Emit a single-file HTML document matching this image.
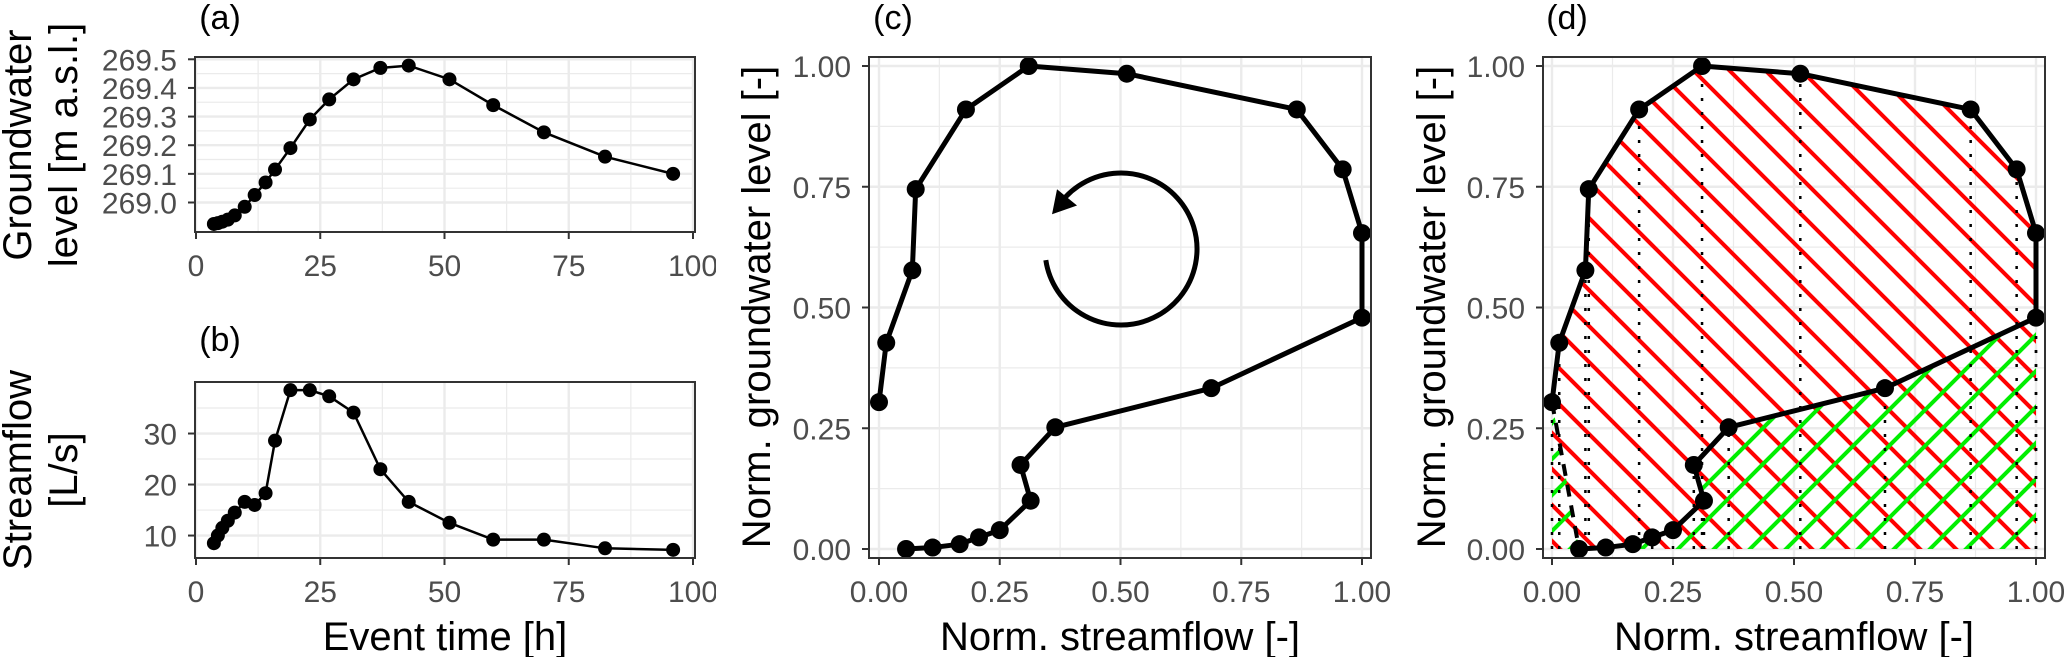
<!DOCTYPE html>
<html><head><meta charset="utf-8"><style>
html,body{margin:0;padding:0;background:#fff;}
svg text{font-family:"Liberation Sans",Arial,sans-serif;}
</style></head><body>
<svg id="fig" width="2067" height="657" viewBox="0 0 2067 657" xmlns="http://www.w3.org/2000/svg">
<defs>
<clipPath id="clipA"><rect x="195" y="57" width="500" height="175"/></clipPath>
<clipPath id="clipB"><rect x="195" y="382" width="500" height="176"/></clipPath>
<clipPath id="clipLbl"><rect x="0" y="0" width="716" height="657"/></clipPath>
<clipPath id="clipRed"><polygon id="redPoly"/></clipPath>
<clipPath id="clipGreen"><polygon id="greenPoly"/></clipPath>
</defs>
<g id="root"></g>
</svg>
<script>
// ---- data ----
const eventTime = [3.6,4.4,5.3,6.4,7.8,9.8,11.8,14,15.9,19,22.9,26.8,31.7,37.1,42.8,51,59.8,70,82.3,96];
const groundwater = [268.925,268.928,268.933,268.94,268.955,268.985,269.026,269.07,269.115,269.19,269.29,269.36,269.43,269.47,269.478,269.43,269.34,269.245,269.16,269.1];
const streamflow = [8.5,10,11.5,12.9,14.5,16.6,16,18.3,28.6,38.5,38.5,37.3,34.1,23,16.6,12.5,9.2,9.2,7.5,7.2];
const normQ = [0.056,0.111,0.167,0.207,0.25,0.314,0.293,0.365,0.688,1.0,1.0,0.96,0.865,0.513,0.31,0.18,0.076,0.069,0.015,0.0];
const normGW = [0.0,0.003,0.010,0.024,0.039,0.10,0.174,0.252,0.333,0.479,0.654,0.786,0.91,0.984,1.0,0.91,0.745,0.577,0.427,0.304];
const timeTicks = [0,25,50,75,100];
const gwTicks = [269.0,269.1,269.2,269.3,269.4,269.5];
const qTicks = [10,20,30];
const normTicks = [0,0.25,0.5,0.75,1.0];
const normTickLabels = ["0.00","0.25","0.50","0.75","1.00"];

const NS="http://www.w3.org/2000/svg";
const root=document.getElementById('root');
function mk(tag,attrs,parent){const e=document.createElementNS(NS,tag);for(const k in attrs)e.setAttribute(k,attrs[k]);(parent||root).appendChild(e);return e;}
function lin(d0,d1,p0,p1){return v=>p0+(v-d0)/(d1-d0)*(p1-p0);}

const xT=lin(0,100,196,693);
const yA=lin(268.897,269.508,232,57);
const yB=lin(5.6,40.1,558,382);
const xC=lin(0,1,879,1362), xD=lin(0,1,1552,2036), yN=lin(0,1,549,66);

function panel(name,x0,y0,x1,y1,xs,ys,xMaj,xMin,yMaj,yMin){
  const g=mk('g',{});
  
  
  mk('rect',{x:x0,y:y0,width:x1-x0,height:y1-y0,fill:'#fff'},g);
  xMin.forEach(v=>mk('line',{x1:xs(v),x2:xs(v),y1:y0,y2:y1,stroke:'#ebebeb','stroke-width':1.2},g));
  yMin.forEach(v=>mk('line',{x1:x0,x2:x1,y1:ys(v),y2:ys(v),stroke:'#ebebeb','stroke-width':1.2},g));
  xMaj.forEach(v=>mk('line',{x1:xs(v),x2:xs(v),y1:y0,y2:y1,stroke:'#ebebeb','stroke-width':2.4},g));
  yMaj.forEach(v=>mk('line',{x1:x0,x2:x1,y1:ys(v),y2:ys(v),stroke:'#ebebeb','stroke-width':2.4},g));
  return g;
}
function frame(x0,y0,x1,y1,xs,ys,xMaj,yMaj,xLbl,yLbl){
  const b=mk('rect',{x:x0,y:y0,width:x1-x0,height:y1-y0,fill:'none',stroke:'#333','stroke-width':2});
  
  
  xMaj.forEach((v,i)=>{
    mk('line',{x1:xs(v),x2:xs(v),y1:y1,y2:y1+7,stroke:'#333','stroke-width':2});
    const t=mk('text',{x:xs(v),y:y1+44,'font-size':30,fill:'#4d4d4d','text-anchor':'middle','clip-path':x0<700?'url(#clipLbl)':''});
    t.textContent=xLbl[i];
    
    
  });
  yMaj.forEach((v,i)=>{
    mk('line',{x1:x0-7,x2:x0,y1:ys(v),y2:ys(v),stroke:'#333','stroke-width':2});
    const t=mk('text',{x:x0-18,y:ys(v)+11,'font-size':30,fill:'#4d4d4d','text-anchor':'end'});
    t.textContent=yLbl[i];
    
    
  });
}
function label(txt,x,y,size,name,rot){
  const t=mk('text',{x:x,y:y,'font-size':size,fill:'#000','text-anchor':'middle','dominant-baseline':'central'});
  if(rot) t.setAttribute('transform','rotate(-90 '+x+' '+y+')');
  t.textContent=txt;
  
  
}

// ---- panel a ----
panel('groundwater-time',195,57,695,232,xT,yA,timeTicks,[12.5,37.5,62.5,87.5],gwTicks,[269.05,269.15,269.25,269.35,269.45]);
const ga=mk('g',{'clip-path':'url(#clipA)'});


mk('polyline',{points:eventTime.map((t,i)=>xT(t)+','+yA(groundwater[i])).join(' '),fill:'none',stroke:'#000','stroke-width':2.5},ga);
eventTime.forEach((t,i)=>{const c=mk('circle',{cx:xT(t),cy:yA(groundwater[i]),r:7,fill:'#000'},ga);
  
  });
frame(195,57,695,232,xT,yA,timeTicks,gwTicks,timeTicks.map(String),gwTicks.map(v=>v.toFixed(1)));
label('(a)',220,18,34,'panel-a-title');
label('Groundwater',18,145,40,'y-axis-title-a-line1',true);
label('level [m a.s.l.]',64,145,40,'y-axis-title-a-line2',true);

// ---- panel b ----
panel('streamflow-time',195,382,695,558,xT,yB,timeTicks,[12.5,37.5,62.5,87.5],qTicks,[15,25,35]);
const gb=mk('g',{'clip-path':'url(#clipB)'});


mk('polyline',{points:eventTime.map((t,i)=>xT(t)+','+yB(streamflow[i])).join(' '),fill:'none',stroke:'#000','stroke-width':2.5},gb);
eventTime.forEach((t,i)=>{const c=mk('circle',{cx:xT(t),cy:yB(streamflow[i]),r:7,fill:'#000'},gb);
  
  });
frame(195,382,695,558,xT,yB,timeTicks,qTicks,timeTicks.map(String),qTicks.map(String));
label('(b)',220,340,34,'panel-b-title');
label('Streamflow',18,470,40,'y-axis-title-b-line1',true);
label('[L/s]',64,470,40,'y-axis-title-b-line2',true);
label('Event time [h]',445,637,40,'x-axis-title-ab');

const normMin=[0.125,0.375,0.625,0.875];
// ---- panel c ----
panel('hysteresis-loop',869,57,1371,558,xC,yN,normTicks,normMin,normTicks,normMin);
const gc=mk('g',{});


mk('polyline',{points:normQ.map((q,i)=>xC(q)+','+yN(normGW[i])).join(' '),fill:'none',stroke:'#000','stroke-width':5,'stroke-linejoin':'round'},gc);
normQ.forEach((q,i)=>{const c=mk('circle',{cx:xC(q),cy:yN(normGW[i]),r:9,fill:'#000'},gc);
  
  });
const cx=1121,cy=249,R=76;
const a0=Math.atan2(260-cy,1047-cx), a1=Math.atan2(212-cy,1059-cx);
const arc=mk('path',{d:'M'+(cx+R*Math.cos(a0))+','+(cy+R*Math.sin(a0))+' A'+R+','+R+' 0 1 0 '+(cx+R*Math.cos(a1))+','+(cy+R*Math.sin(a1)),fill:'none',stroke:'#000','stroke-width':5});


const ah=mk('polygon',{points:'1054,212 1058,192 1074,205',fill:'#000',stroke:'#000','stroke-width':3});


frame(869,57,1371,558,xC,yN,normTicks,normTicks,normTickLabels,normTickLabels);
label('(c)',893,18,34,'panel-c-title');
label('Norm. groundwater level [-]',757,307,40,'y-axis-title-c',true);
label('Norm. streamflow [-]',1120,637,40,'x-axis-title-c');

// ---- panel d ----
panel('hysteresis-area',1543,57,2045,558,xD,yN,normTicks,normMin,normTicks,normMin);
const loopPts=normQ.map((q,i)=>xD(q)+','+yN(normGW[i]));
const iPeak=normQ.indexOf(Math.max(...normQ));
const last=normQ.length-1;
// red: area under the upper (falling) branch down to zero
const upper=[];
for(let i=iPeak;i<=last;i++) upper.push(xD(normQ[i])+','+yN(normGW[i]));
const redPts=upper.concat([xD(normQ[last])+','+yN(0),xD(normQ[iPeak])+','+yN(0)]);
document.getElementById('redPoly').setAttribute('points',redPts.join(' '));
// green: area under the lower (rising) branch
const lower=normQ.slice(0,iPeak+1).map((q,i)=>xD(q)+','+yN(normGW[i]));
const greenPts=[xD(normQ[last])+','+yN(normGW[last])].concat(lower,[xD(normQ[iPeak])+','+yN(0),xD(normQ[last])+','+yN(0)]);
document.getElementById('greenPoly').setAttribute('points',greenPts.join(' '));
const gr=mk('g',{'clip-path':'url(#clipRed)'});


for(let k=-600;k<700;k+=36){mk('line',{x1:1543+k,y1:40,x2:1543+k+560,y2:600,stroke:'#ff0000','stroke-width':4},gr);}
const gg=mk('g',{'clip-path':'url(#clipGreen)'});


for(let k=-600;k<1100;k+=36){mk('line',{x1:1543+k,y1:600,x2:1543+k+560,y2:40,stroke:'#00ee00','stroke-width':4},gg);}
normQ.forEach((q,i)=>{const l=mk('line',{x1:xD(q),x2:xD(q),y1:yN(0),y2:yN(normGW[i]),stroke:'#000','stroke-width':2.5,'stroke-dasharray':'3 11'});
  
  });
const dl=mk('line',{x1:xD(normQ[last]),y1:yN(normGW[last]),x2:xD(normQ[0]),y2:yN(normGW[0]),stroke:'#000','stroke-width':4,'stroke-dasharray':'12 9'});


const gd=mk('g',{});


mk('polyline',{points:loopPts.join(' '),fill:'none',stroke:'#000','stroke-width':5,'stroke-linejoin':'round'},gd);
normQ.forEach((q,i)=>{const c=mk('circle',{cx:xD(q),cy:yN(normGW[i]),r:9,fill:'#000'},gd);
  
  });
frame(1543,57,2045,558,xD,yN,normTicks,normTicks,normTickLabels,normTickLabels);
label('(d)',1567,18,34,'panel-d-title');
label('Norm. groundwater level [-]',1432,307,40,'y-axis-title-d',true);
label('Norm. streamflow [-]',1794,637,40,'x-axis-title-d');
</script>
</body></html>
